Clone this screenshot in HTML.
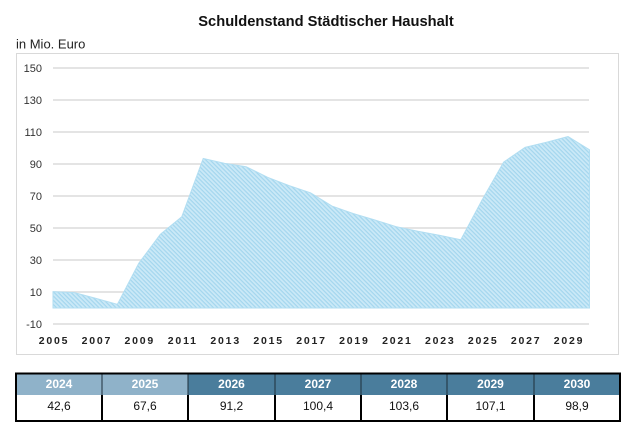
<!DOCTYPE html>
<html>
<head>
<meta charset="utf-8">
<style>
  html, body { margin:0; padding:0; background:#ffffff; }
  body { width:637px; height:434px; overflow:hidden; }
  svg { display:block; }
  text { font-family: "Liberation Sans", "DejaVu Sans", sans-serif; }
</style>
</head>
<body>
<svg width="637" height="434" viewBox="0 0 637 434" xmlns="http://www.w3.org/2000/svg">
  <defs>
    <pattern id="hatch" patternUnits="userSpaceOnUse" width="3" height="3" patternTransform="rotate(45)">
      <rect x="0" y="0" width="3" height="3" fill="#cbe9f7"/>
      <rect x="0" y="0" width="3" height="1.2" fill="#a3d6ee"/>
    </pattern>
  </defs>

  <!-- Title -->
  <text x="326" y="26" text-anchor="middle" font-size="14.7" font-weight="bold" fill="#111">Schuldenstand Städtischer Haushalt</text>
  <text x="16" y="48.5" font-size="13" fill="#222">in Mio. Euro</text>

  <!-- Chart frame -->
  <rect x="16.5" y="53.5" width="602" height="301" fill="#fff" stroke="#d9d9d9" stroke-width="1"/>

  <!-- Gridlines -->
  <g stroke="#dcdcdc" stroke-width="1.4">
    <line x1="53" y1="68" x2="589" y2="68"/>
    <line x1="53" y1="100" x2="589" y2="100"/>
    <line x1="53" y1="132" x2="589" y2="132"/>
    <line x1="53" y1="164" x2="589" y2="164"/>
    <line x1="53" y1="196" x2="589" y2="196"/>
    <line x1="53" y1="228" x2="589" y2="228"/>
    <line x1="53" y1="260" x2="589" y2="260"/>
    <line x1="53" y1="292" x2="589" y2="292"/>
    <line x1="53" y1="324" x2="589" y2="324"/>
  </g>

  <!-- Y labels -->
  <g font-size="11" fill="#333" text-anchor="end">
    <text x="42" y="72">150</text>
    <text x="42" y="104">130</text>
    <text x="42" y="136">110</text>
    <text x="42" y="168">90</text>
    <text x="42" y="200">70</text>
    <text x="42" y="232">50</text>
    <text x="42" y="264">30</text>
    <text x="42" y="296">10</text>
    <text x="42" y="328">-10</text>
  </g>

  <!-- Area -->
  <polygon fill="url(#hatch)" stroke="#b2def2" stroke-width="1"
    points="53,308 53,291.7 74.46,292.6 95.92,298.4 117.38,304.3 138.84,263.2 160.3,234.4 181.76,216.8 203.22,158.4 224.68,163.4 246.14,166.7 267.6,177.3 289.06,185.6 310.52,192.8 331.98,206.1 353.44,213.6 374.9,220 396.36,226.7 417.82,231.2 439.28,235.2 460.74,239.8 482.2,199.8 503.66,162.1 525.12,147.4 546.58,142.2 568.04,136.6 589.5,149.8 589.5,308"/>

  <!-- X labels -->
  <g font-size="10.5" font-weight="bold" fill="#222" text-anchor="middle" letter-spacing="1.8">
    <text x="54" y="344">2005</text>
    <text x="96.9" y="344">2007</text>
    <text x="139.8" y="344">2009</text>
    <text x="182.8" y="344">2011</text>
    <text x="225.7" y="344">2013</text>
    <text x="268.6" y="344">2015</text>
    <text x="311.5" y="344">2017</text>
    <text x="354.4" y="344">2019</text>
    <text x="397.4" y="344">2021</text>
    <text x="440.3" y="344">2023</text>
    <text x="483.2" y="344">2025</text>
    <text x="526.1" y="344">2027</text>
    <text x="569" y="344">2029</text>
  </g>

  <!-- Table -->
  <rect x="16" y="373.5" width="86" height="21.5" fill="#8fb2c9"/>
  <rect x="102" y="373.5" width="86" height="21.5" fill="#8fb2c9"/>
  <rect x="188" y="373.5" width="432" height="21.5" fill="#4a7d9c"/>
  <g stroke="#1d2f3a" stroke-width="1">
    <line x1="102" y1="373.5" x2="102" y2="395"/>
    <line x1="188" y1="373.5" x2="188" y2="395"/>
    <line x1="275" y1="373.5" x2="275" y2="395"/>
    <line x1="361" y1="373.5" x2="361" y2="395"/>
    <line x1="447" y1="373.5" x2="447" y2="395"/>
    <line x1="534" y1="373.5" x2="534" y2="395"/>
  </g>
  <g stroke="#000" stroke-width="2">
    <line x1="102" y1="395" x2="102" y2="421"/>
    <line x1="188" y1="395" x2="188" y2="421"/>
    <line x1="275" y1="395" x2="275" y2="421"/>
    <line x1="361" y1="395" x2="361" y2="421"/>
    <line x1="447" y1="395" x2="447" y2="421"/>
    <line x1="534" y1="395" x2="534" y2="421"/>
  </g>
  <rect x="16" y="373.5" width="604" height="47.5" fill="none" stroke="#000" stroke-width="2"/>

  <g font-size="12" font-weight="bold" fill="#ffffff" text-anchor="middle">
    <text x="59" y="388">2024</text>
    <text x="145" y="388">2025</text>
    <text x="231.5" y="388">2026</text>
    <text x="318" y="388">2027</text>
    <text x="404" y="388">2028</text>
    <text x="490.5" y="388">2029</text>
    <text x="577" y="388">2030</text>
  </g>
  <g font-size="12" fill="#111" text-anchor="middle">
    <text x="59" y="410">42,6</text>
    <text x="145" y="410">67,6</text>
    <text x="231.5" y="410">91,2</text>
    <text x="318" y="410">100,4</text>
    <text x="404" y="410">103,6</text>
    <text x="490.5" y="410">107,1</text>
    <text x="577" y="410">98,9</text>
  </g>
</svg>
</body>
</html>
